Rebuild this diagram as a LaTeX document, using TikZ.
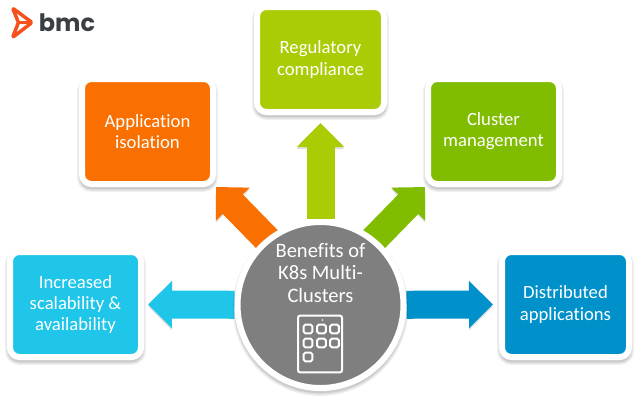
\documentclass[tikz,border=0pt]{standalone}
\usepackage{fontspec}
\setmainfont[Ligatures=NoCommon]{Carlito}
\newfontfamily\logofont{Poppins}
\usepackage{xcolor}
\usetikzlibrary{arrows.meta,backgrounds}
\definecolor{isolationcol}{HTML}{F97000}
\definecolor{compliancecol}{HTML}{AACC05}
\definecolor{clustercol}{HTML}{80BC00}
\definecolor{distributedcol}{HTML}{0091CB}
\definecolor{scalecol}{HTML}{1FC6E9}
\definecolor{hubcol}{HTML}{7F7F7F}
\definecolor{logocol}{HTML}{F4511E}
\definecolor{logotext}{HTML}{3A3F44}
\tikzset{
  softshadow/.style={
    preaction={draw=black,draw opacity=.06,line width=7.5pt,transform canvas={yshift=-2.2pt}},
    preaction={draw=black,draw opacity=.07,line width=5.5pt,transform canvas={yshift=-2.2pt}},
    preaction={draw=black,draw opacity=.09,line width=3.5pt,transform canvas={yshift=-2.2pt}}},
  benefit/.style={softshadow,draw=white,line width=4.5pt,rounded corners=7pt,minimum width=98.25pt,
    minimum height=78.75pt,align=center,text=white,font=\fontsize{14}{15.8}\selectfont,
    inner sep=0pt},
  widebenefit/.style={benefit,minimum width=95.25pt},
  blockarrow/.style={-{Triangle[length=18pt,width=34.5pt]},line width=21pt,
    preaction={draw=black,draw opacity=.12,transform canvas={yshift=-1.5pt}}},
  hub/.style={softshadow,circle,draw=white,fill=hubcol,line width=4.5pt,minimum size=124.5pt,inner sep=0pt},
  hubtext/.style={align=center,text=white,font=\fontsize{15.4}{17}\selectfont,inner sep=0pt},
  rack/.style={draw=white,line width=1.5pt,rounded corners=1.5pt,minimum width=33pt,
    minimum height=42.5pt,inner sep=0pt},
  slot/.style={draw=white,line width=1.5pt,rounded corners=1.2pt,minimum size=6.4pt,inner sep=0pt},
  logomark/.style={draw=logocol,line width=2.6pt,line join=round,rounded corners=1pt}
}
\begin{document}
\begin{tikzpicture}[x=.75pt,y=-.75pt]
  \useasboundingbox (0,0) rectangle (639,401);
  % benefits
  \node[benefit,fill=isolationcol] (isolation) at (147.5,131.5) {Application\\isolation};
  \node[widebenefit,fill=compliancecol] (compliance) at (320.5,59.5) {Regulatory\\compliance};
  \node[benefit,fill=clustercol] (cluster) at (493.5,131.5) {Cluster\\management};
  \node[benefit,fill=scalecol] (scale) at (75.5,304.5) {Increased\\scalability \&\\availability};
  \node[widebenefit,fill=distributedcol] (distributed) at (565.5,304.5) {Distributed\\applications};
  % centre
  \node[hub] (center) at (320.5,305) {};
  \node[hubtext] (centerlabel) at (320.5,273) {Benefits of\\K8s Multi-\\Clusters};
  \node[rack] (rackbox) at (320,344) {};
  \node[slot] (s1) at (308,329) {};
  \node[slot] (s2) at (321.5,329) {};
  \node[slot] (s3) at (334.5,329) {};
  \node[slot] (s4) at (308,343) {};
  \node[slot] (s5) at (321.5,343) {};
  \node[slot] (s6) at (334.5,343) {};
  \node[slot] (s7) at (308,357) {};
  \node[circle,fill=white,minimum size=1.2pt,inner sep=0pt] (rackdot) at (322.5,320) {};
  % arrows
  \coordinate (isolationroot) at (296,269);
  \coordinate (clusterroot) at (345,269);
  \begin{scope}[on background layer]
    \draw[blockarrow,isolationcol] (isolationroot) -- (isolation.south east);
    \draw[blockarrow,compliancecol,shorten >=6pt] (center) -- (compliance.south);
    \draw[blockarrow,clustercol] (clusterroot) -- (cluster.south west);
    \draw[blockarrow,scalecol,shorten >=3pt] (center) -- (scale.east);
    \draw[blockarrow,distributedcol,shorten >=4.5pt] (center) -- (distributed.west);
  \end{scope}
  % logo
  \coordinate (m1) at (12.5,8);
  \coordinate (m2) at (32,22.5);
  \coordinate (m3) at (12.5,37.5);
  \coordinate (m4) at (18.5,22.5);
  \draw[logomark] (m1) -- (m2) -- (m3) -- (m4) -- cycle;
  \draw[logomark] (m4) -- (m2);
  \node[font=\logofont\bfseries\fontsize{18}{18}\selectfont,text=logotext,inner sep=0pt] (bmc) at (67,23) {bmc};
\end{tikzpicture}
\end{document}
